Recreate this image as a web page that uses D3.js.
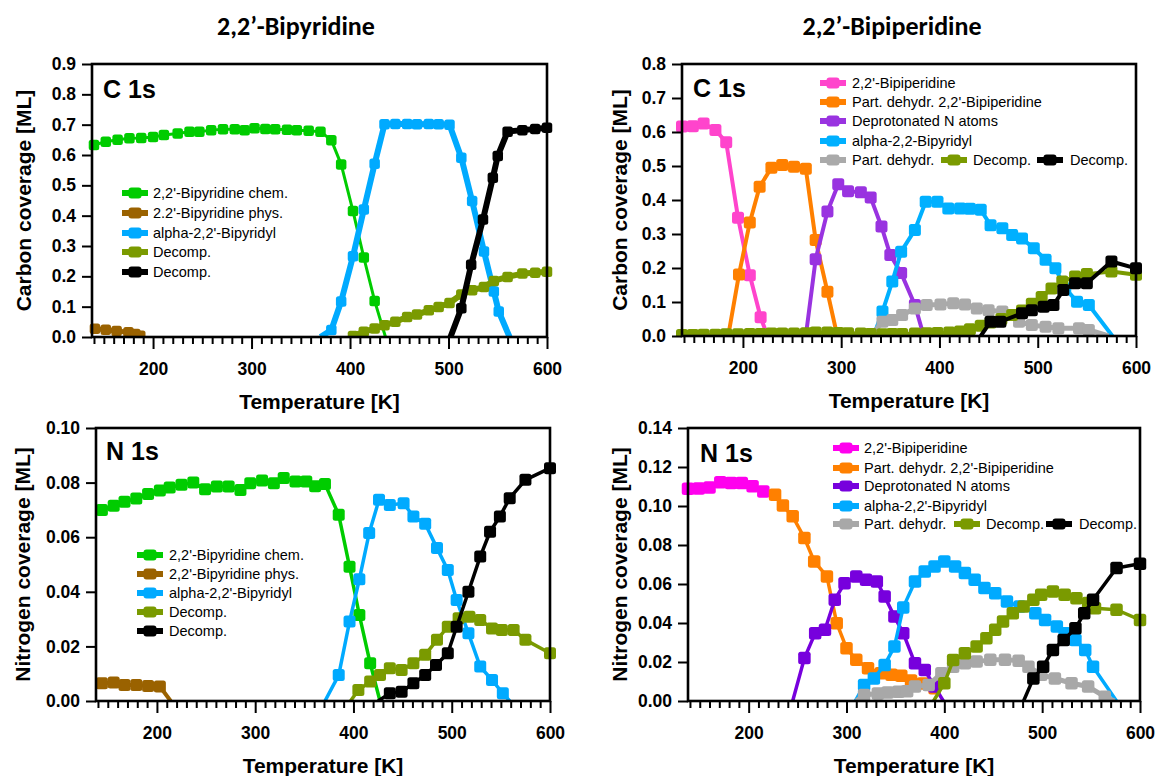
<!DOCTYPE html>
<html>
<head>
<meta charset="utf-8">
<script src="https://cdn.jsdelivr.net/npm/d3@7"></script>
<style>
body{margin:0;background:#fff}
text{font-family:'Liberation Sans',Arial,sans-serif}
</style>
</head>
<body>
<div id="chart"></div>
<script>
// temperature axis shared by all four panels
var tRange = [138, 600]
var majorTicks = [200, 300, 400, 500, 600]

var titles = ["2,2\u2019-Bipyridine", "2,2\u2019-Bipiperidine"]
var edgeLabels = ["C 1s", "C 1s", "N 1s", "N 1s"]
var yTitles = ["Carbon coverage [ML]", "Carbon coverage [ML]", "Nitrogen coverage [ML]", "Nitrogen coverage [ML]"]
var yMax = [0.9, 0.8, 0.10, 0.14]
var yStep = [0.1, 0.1, 0.02, 0.02]

// --- C 1s, 2,2'-bipyridine
var bpyC_chem = [[140,0.633],[152,0.644],[164,0.650],[176,0.655],[188,0.656],[200,0.659],[211,0.666],[225,0.671],[237,0.677],[247,0.677],[259,0.682],[271,0.685],[283,0.685],[293,0.682],[303,0.688],[314,0.686],[324,0.685],[336,0.683],[346,0.682],[358,0.680],[370,0.677],[381,0.649],[391,0.569],[403,0.415],[414,0.262],[425,0.119],[436,0]]
var bpyC_phys = [[141,0.027],[152,0.024],[163,0.020],[175,0.016],[182,0.010],[187,0.004]]
var bpyC_alpha = [[370,0],[381,0.023],[391,0.117],[403,0.266],[414,0.420],[425,0.571],[435,0.701],[446,0.702],[458,0.702],[468,0.701],[480,0.702],[490,0.701],[501,0.700],[513,0.591],[524,0.448],[536,0.282],[546,0.150],[551,0.084],[562,0]]
var bpyC_dec1 = [[403,0.003],[414,0.017],[425,0.028],[435,0.039],[446,0.050],[458,0.066],[468,0.074],[480,0.088],[490,0.099],[501,0.112],[513,0.140],[524,0.154],[536,0.165],[546,0.185],[560,0.198],[575,0.209],[588,0.212],[600,0.215]]
var bpyC_dec2 = [[502,0],[513,0.095],[523,0.238],[535,0.387],[545,0.525],[550,0.597],[560,0.677],[575,0.682],[588,0.686],[600,0.690]]

// --- C 1s, 2,2'-bipiperidine
var bppC_mol = [[138,0.616],[149,0.617],[160,0.625],[172,0.606],[183,0.570],[195,0.348],[207,0.179],[218,0.055],[225,0]]
var bppC_part = [[185,0],[196,0.181],[207,0.334],[217,0.439],[229,0.495],[240,0.503],[252,0.498],[264,0.492],[274,0.282],[286,0.130],[296,0]]
var bppC_depr = [[264,0],[274,0.226],[286,0.366],[297,0.446],[307,0.426],[320,0.423],[330,0.407],[341,0.322],[350,0.238],[361,0.185],[375,0.091],[384,0]]
var bppC_alpha = [[333,0],[342,0.072],[352,0.160],[361,0.248],[375,0.312],[386,0.395],[398,0.395],[409,0.375],[421,0.375],[431,0.374],[442,0.371],[452,0.326],[464,0.317],[474,0.297],[484,0.287],[496,0.258],[508,0.224],[518,0.199],[528,0.140],[540,0.101],[552,0.091],[576,0]]
var bppC_dehyd = [[330,0],[342,0.042],[352,0.047],[362,0.062],[375,0.081],[387,0.091],[401,0.093],[414,0.096],[426,0.093],[438,0.081],[450,0.076],[464,0.072],[481,0.042],[494,0.032],[508,0.027],[521,0.023],[542,0.023],[552,0.018],[572,0]]
var bppC_dec1 = [[138,0.003],[149,0.003],[160,0.004],[172,0.004],[183,0.005],[195,0.005],[207,0.006],[218,0.006],[229,0.007],[240,0.007],[252,0.007],[264,0.008],[274,0.010],[286,0.010],[297,0.009],[307,0.008],[320,0.007],[330,0.006],[342,0.005],[352,0.006],[362,0.006],[375,0.007],[387,0.008],[398,0.009],[410,0.010],[421,0.013],[431,0.020],[442,0.030],[452,0.040],[463,0.050],[474,0.062],[484,0.075],[494,0.095],[504,0.115],[514,0.140],[525,0.160],[538,0.175],[550,0.182],[575,0.190],[600,0.180]]
var bppC_dec2 = [[442,0],[452,0.042],[462,0.042],[484,0.067],[494,0.076],[506,0.086],[516,0.091],[526,0.135],[538,0.155],[550,0.155],[575,0.219],[600,0.199]]

// --- N 1s, 2,2'-bipyridine
var bpyN_chem = [[144,0.0700],[156,0.0715],[167,0.0730],[179,0.0742],[191,0.0758],[203,0.0771],[213,0.0782],[225,0.0792],[237,0.0800],[249,0.0776],[261,0.0786],[273,0.0786],[285,0.0773],[295,0.0798],[307,0.0808],[319,0.0798],[329,0.0817],[341,0.0804],[352,0.0804],[361,0.0787],[371,0.0795],[385,0.0682],[396,0.0492],[406,0.0315],[417,0.0138],[427,0]]
var bpyN_phys = [[144,0.0065],[156,0.0068],[167,0.0059],[179,0.0059],[191,0.0055],[203,0.0053],[214,0]]
var bpyN_alpha = [[371,0],[385,0.0095],[396,0.0291],[406,0.0446],[416,0.0615],[426,0.0737],[437,0.0718],[451,0.0724],[461,0.0676],[473,0.0649],[485,0.0560],[496,0.0480],[505,0.0370],[517,0.0248],[529,0.0126],[541,0.0077],[552,0.0028],[559,0]]
var bpyN_dec1 = [[397,0],[405,0.0040],[417,0.0071],[427,0.0095],[437,0.0120],[449,0.0114],[461,0.0138],[473,0.0169],[485,0.0224],[496,0.0272],[507,0.0303],[518,0.0309],[529,0.0297],[541,0.0266],[551,0.0260],[563,0.0260],[575,0.0224],[600,0.0175]]
var bpyN_dec2 = [[425,0],[437,0.0028],[449,0.0034],[461,0.0065],[473,0.0095],[484,0.0132],[496,0.0175],[505,0.0272],[517,0.0400],[529,0.0529],[539,0.0620],[549,0.0676],[559,0.0743],[575,0.0810],[600,0.0853]]

// --- N 1s, 2,2'-bipiperidine
var bppN_mol = [[138,0.1088],[149,0.1090],[160,0.1095],[171,0.1122],[182,0.1118],[193,0.1118],[204,0.1101],[215,0.1075]]
var bppN_part = [[227,0.1058],[235,0.1002],[245,0.0947],[257,0.0836],[267,0.0716],[280,0.0639],[290,0.0399],[300,0.0271],[310,0.0211],[322,0.0168],[335,0.0142],[346,0.0135],[356,0.0130],[366,0.0105],[378,0.0090],[390,0.0065]]
var bppN_depr = [[245,0],[257,0.0220],[268,0.0348],[278,0.0365],[288,0.0519],[298,0.0604],[310,0.0639],[320,0.0622],[331,0.0613],[339,0.0536],[349,0.0433],[358,0.0348],[370,0.0193],[380,0.0159],[390,0.0074],[399,0]]
var bppN_alpha = [[309,0],[318,0.0082],[328,0.0116],[339,0.0185],[349,0.0279],[358,0.0480],[370,0.0613],[380,0.0664],[390,0.0690],[400,0.0716],[411,0.0690],[421,0.0656],[431,0.0622],[441,0.0579],[452,0.0553],[464,0.0510],[477,0.0485],[493,0.0450],[503,0.0416],[515,0.0382],[523,0.0348],[534,0.0313],[544,0.0262],[552,0.0176],[576,0]]
var bppN_dehyd = [[310,0],[318,0.0031],[332,0.0039],[342,0.0044],[353,0.0048],[362,0.0050],[370,0.0074],[384,0.0082],[397,0.0142],[409,0.0176],[421,0.0193],[433,0.0202],[447,0.0211],[462,0.0211],[476,0.0207],[486,0.0176],[499,0.0134],[513,0.0116],[530,0.0091],[547,0.0074],[564,0.0022],[574,0]]
var bppN_dec1 = [[389,0],[400,0.0091],[409,0.0210],[421,0.0245],[433,0.0279],[443,0.0322],[452,0.0365],[460,0.0408],[470,0.0450],[481,0.0485],[491,0.0519],[499,0.0545],[511,0.0562],[523,0.0545],[535,0.0527],[547,0.0502],[554,0.0476],[576,0.0468],[600,0.0416]]
var bppN_dec2 = [[481,0],[491,0.0116],[501,0.0176],[511,0.0262],[522,0.0313],[534,0.0373],[543,0.0450],[552,0.0519],[576,0.0682],[600,0.0704]]

var bpyNamesC = ["2,2'-Bipyridine chem.", "2.2'-Bipyridine phys.", "alpha-2,2'-Bipyridyl", "Decomp.", "Decomp."]
var bpyNamesN = ["2,2'-Bipyridine chem.", "2,2'-Bipyridine phys.", "alpha-2,2'-Bipyridyl", "Decomp.", "Decomp."]
var bppNamesC = ["2,2'-Bipiperidine", "Part. dehydr. 2,2'-Bipiperidine", "Deprotonated N atoms", "alpha-2,2-Bipyridyl", "Part. dehydr.", "Decomp.", "Decomp."]
var bppNamesN = ["2,2'-Bipiperidine", "Part. dehydr. 2,2'-Bipiperidine", "Deprotonated N atoms", "alpha-2,2'-Bipyridyl", "Part. dehydr.", "Decomp.", "Decomp."]

// ---------------- layout / style ----------------
var W = 1158, H = 776
var svg = d3.select('#chart').append('svg')
    .attr('width', W).attr('height', H)
svg.append('rect').attr('width', W).attr('height', H).attr('fill', '#fff')

var boxes = [
    {left:92, right:547, top:64, bottom:337, ytx:31, lx:103, ly:98},
    {left:682, right:1136, top:64, bottom:336, ytx:627, lx:693, ly:97},
    {left:96, right:550, top:428, bottom:701, ytx:30, lx:106, ly:460},
    {left:688, right:1140, top:428, bottom:701, ytx:627, lx:700, ly:462}
]

var cBpy = ['#00cc00', '#9a6200', '#00aaff', '#7a9a00', '#000000']
var cBppC = ['#ff44cc', '#ff8000', '#9933e0', '#00b0ff', '#aaaaaa', '#7a9a00', '#000000']
var cBppN = ['#ff00ee', '#ff8000', '#7700dd', '#00aaff', '#a8a8a8', '#7a9a00', '#000000']

var panels = [
    {series:[bpyC_chem, bpyC_phys, bpyC_alpha, bpyC_dec1, bpyC_dec2], names:bpyNamesC, colors:cBpy,
     widths:[3, 5, 6, 6, 6], ms:10.5,
     legend:{x:135, tx:153, rows:[193, 213, 233, 252, 272]}},
    {series:[bppC_mol, bppC_part, bppC_depr, bppC_alpha, bppC_dehyd, bppC_dec1, bppC_dec2], names:bppNamesC, colors:cBppC,
     widths:[4, 4, 4, 4, 5, 4, 4], ms:12,
     legend:{x:833, tx:852, rows:[83, 102, 121, 141, 160], extra:[{x:954, tx:973}, {x:1050, tx:1070}]}},
    {series:[bpyN_chem, bpyN_phys, bpyN_alpha, bpyN_dec1, bpyN_dec2], names:bpyNamesN, colors:cBpy,
     widths:[3.5, 4, 3.5, 3.5, 3.5], ms:12,
     legend:{x:150, tx:169, rows:[555, 574, 593, 612, 631]}},
    {series:[bppN_mol, bppN_part, bppN_depr, bppN_alpha, bppN_dehyd, bppN_dec1, bppN_dec2], names:bppNamesN, colors:cBppN,
     widths:[3.5, 3.5, 3.5, 3.5, 5, 3.5, 3.5], ms:12.5,
     legend:{x:846, tx:864, rows:[448, 468, 486, 506, 524], extra:[{x:967, tx:986}, {x:1059, tx:1079}]}}
]

function LegendItem(g, cx, tx, cy, color, name){
    g.append('line')
        .attr('x1', cx-13).attr('x2', cx+13)
        .attr('y1', cy).attr('y2', cy)
        .attr('stroke', color).attr('stroke-width', 6)
    g.append('rect')
        .attr('x', cx-6.5).attr('y', cy-5.5)
        .attr('width', 13).attr('height', 11)
        .attr('rx', 3).attr('fill', color)
    g.append('text')
        .attr('x', tx).attr('y', cy+5)
        .attr('font-size', '14.5px')
        .text(name)
}

function DrawPanel(i){
    var b = boxes[i], p = panels[i]
    var g = svg.append('g')
    var x = d3.scaleLinear().domain(tRange).range([b.left, b.right])
    var y = d3.scaleLinear().domain([0, yMax[i]]).range([b.bottom, b.top])

    // only the bottom is clipped, markers may poke out left/right
    svg.append('clipPath').attr('id', 'clip'+i)
        .append('rect')
        .attr('x', b.left-30).attr('y', b.top-30)
        .attr('width', b.right-b.left+60).attr('height', b.bottom-b.top+30)

    var plot = g.append('g').attr('clip-path', 'url(#clip'+i+')')
    var line = d3.line().x(function(d){return x(d[0])}).y(function(d){return y(d[1])})

    p.series.forEach(function(data, k){
        var s = plot.append('g')
        s.append('path')
            .datum(data)
            .attr('d', line)
            .attr('fill', 'none')
            .attr('stroke', p.colors[k])
            .attr('stroke-width', p.widths[k])
            .attr('stroke-linejoin', 'round')
        // zero points are just where the trace runs into the axis
        s.selectAll('rect')
            .data(data.filter(function(d){return d[1] > 0}))
            .join('rect')
            .attr('x', function(d){return x(d[0]) - p.ms/2})
            .attr('y', function(d){return y(d[1]) - p.ms/2})
            .attr('width', p.ms).attr('height', p.ms)
            .attr('rx', 2.5)
            .attr('fill', p.colors[k])
    })

    // axes
    var minor = d3.range(140, 601, 10).filter(function(t){return t % 100 != 0})
    g.append('g')
        .attr('transform', 'translate(0,'+b.bottom+')')
        .call(d3.axisBottom(x).tickValues(minor).tickSize(7).tickSizeOuter(0).tickFormat(''))
    g.append('g')
        .attr('transform', 'translate(0,'+b.bottom+')')
        .call(d3.axisBottom(x).tickValues(majorTicks).tickSize(12).tickSizeOuter(0).tickPadding(14))
    var nY = Math.round(yMax[i]/yStep[i])
    var yt = d3.range(0, nY+1).map(function(k){return k*yStep[i]})
    g.append('g')
        .attr('transform', 'translate('+b.left+',0)')
        .call(d3.axisLeft(y).tickValues(yt).tickSize(10).tickSizeOuter(0).tickPadding(6)
              .tickFormat(d3.format(yStep[i] < 0.1 ? '.2f' : '.1f')))
    g.selectAll('.domain').remove()
    g.selectAll('.tick line').attr('stroke', '#000').attr('stroke-width', 2)
    g.selectAll('.tick text')
        .attr('font-family', "'Liberation Sans',Arial,sans-serif")
        .attr('font-size', '17.5px')
        .attr('font-weight', 'bold')
        .attr('fill', '#000')

    g.append('rect')
        .attr('x', b.left).attr('y', b.top)
        .attr('width', b.right-b.left).attr('height', b.bottom-b.top)
        .attr('fill', 'none').attr('stroke', '#000').attr('stroke-width', 2.6)

    g.append('text')
        .attr('x', b.lx).attr('y', b.ly)
        .attr('font-size', '25px').attr('font-weight', 'bold')
        .text(edgeLabels[i])

    g.append('text')
        .attr('x', (b.left+b.right)/2).attr('y', b.bottom+72)
        .attr('text-anchor', 'middle')
        .attr('font-size', '21px').attr('font-weight', 'bold')
        .text('Temperature [K]')

    g.append('text')
        .attr('transform', 'translate('+b.ytx+','+((b.top+b.bottom)/2)+') rotate(-90)')
        .attr('text-anchor', 'middle')
        .attr('font-size', '21px').attr('font-weight', 'bold')
        .text(yTitles[i])

    // legend
    var lg = g.append('g'), L = p.legend
    L.rows.forEach(function(ry, r){
        LegendItem(lg, L.x, L.tx, ry, p.colors[r], p.names[r])
    })
    if(L.extra){
        L.extra.forEach(function(e, r){
            var k = 5 + r
            LegendItem(lg, e.x, e.tx, L.rows[4], p.colors[k], p.names[k])
        })
    }
}

for(var i=0; i<4; i++) DrawPanel(i)

svg.append('text')
    .attr('x', 296).attr('y', 35)
    .attr('text-anchor', 'middle')
    .style('font-family', "Carlito, Lato, 'Open Sans', sans-serif")
    .attr('font-size', '26px').attr('font-weight', 'bold')
    .text(titles[0])
svg.append('text')
    .attr('x', 892).attr('y', 35)
    .attr('text-anchor', 'middle')
    .style('font-family', "Carlito, Lato, 'Open Sans', sans-serif")
    .attr('font-size', '26px').attr('font-weight', 'bold')
    .text(titles[1])
</script>
</body>
</html>
